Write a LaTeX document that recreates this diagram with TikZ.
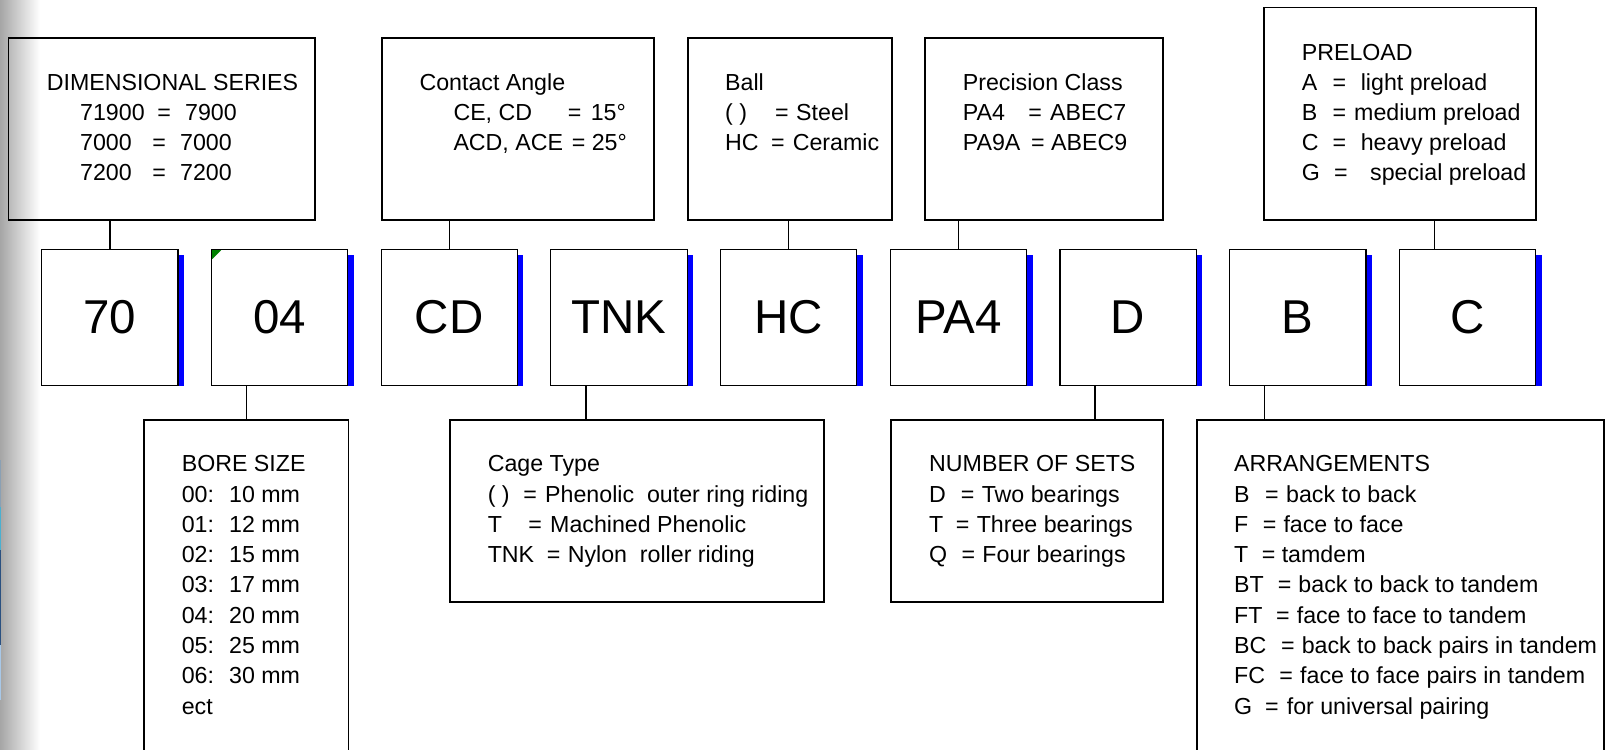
\documentclass[tikz,border=0pt]{standalone}
\usepackage{fontspec}
\setmainfont{Liberation Sans}
\newlength\pxunit \setlength\pxunit{0.5pt}
\newcommand\kvline[4]{\makebox[0pt][l]{#1}\hspace*{#2\pxunit}\makebox[0pt][l]{=}\hspace*{\dimexpr #3\pxunit-#2\pxunit\relax}#4}
\newcommand\kcol[3]{\makebox[0pt][l]{#1}\hspace*{#2\pxunit}#3}
\begin{document}
\begin{tikzpicture}[x=0.5pt,y=-0.5pt,
  info/.style={draw=black, line width=0.8pt, inner sep=0pt, outer sep=0pt, anchor=north west},
  codebox/.style={draw=black, line width=0.6pt, fill=white, inner sep=0pt, outer sep=0pt,
    minimum width=68.15pt, minimum height=68.2pt, anchor=north west,
    font=\fontsize{23.75}{28}\selectfont},
  conn/.style={draw=black, line width=0.75pt},
  txt/.style={anchor=base west, inner sep=0pt, outer sep=0pt, font=\fontsize{11.6}{14}\selectfont}]

\useasboundingbox (0,0) rectangle (1614,750);
\clip (0,0) rectangle (1614,750);
\fill[white] (0,0) rectangle (1614,750);
\shade[left color=black!35, right color=white] (0,0) rectangle (40,750);
\fill[color={rgb,255:red,138;green,160;blue,180}] (0,460) rectangle (1.2,507);
\fill[color={rgb,255:red,74;green,176;blue,208}] (0,507) rectangle (1.2,550);
\fill[color={rgb,255:red,42;green,80;blue,128}] (0,550) rectangle (1.2,645);
\fill[color={rgb,255:red,168;green,200;blue,232}] (0,645) rectangle (1.2,700);

% info boxes (top)
\node[info, minimum width=153.35pt, minimum height=91.15pt] (dim) at (8.3,37.7) {};
\node[info, minimum width=136.15pt, minimum height=91.15pt] (contact) at (381.7,37.7) {};
\node[info, minimum width=102pt, minimum height=91.15pt] (ball) at (687.7,37.7) {};
\node[info, minimum width=119pt, minimum height=91.15pt] (prec) at (924.7,37.7) {};
\node[info, minimum width=136pt, minimum height=106.35pt] (preload) at (1264,7.3) {};
% info boxes (bottom)
\node[info, minimum width=102.15pt, minimum height=170pt] (bore) at (144,420) {};
\node[info, minimum width=187.15pt, minimum height=90.85pt] (cage) at (449.7,420) {};
\node[info, minimum width=135.85pt, minimum height=90.85pt] (sets) at (891,420) {};
\node[info, minimum width=203.5pt, minimum height=170pt] (arr) at (1197,420) {};

% code boxes
\foreach \lab [count=\i from 0] in {70,04,CD,TNK,HC,PA4,D,B,C} {
  \node[codebox] (c\i) at (41.7+169.7*\i, 249.3) {\lab};
  \fill[blue] ([shift={(0.3pt,-2.9pt)}]c\i.north east) rectangle ([xshift=3pt]c\i.south east);
}
\fill[green!50!black] ([shift={(0.4pt,-0.4pt)}]c1.north west) -- ++(9,0) -- ++(-9,9) -- cycle;

% connectors
\draw[conn] (dim.south -| c0.north) -- (c0.north);
\draw[conn] (contact.south -| c2.north) -- (c2.north);
\draw[conn] (ball.south -| c4.north) -- (c4.north);
\draw[conn] (prec.south -| c5.north) -- (c5.north);
\coordinate (p8) at ([xshift=17.5pt]c8.north west);
\draw[conn] (p8 |- preload.south) -- (p8);
\coordinate (p1) at ([xshift=17.5pt]c1.south west);
\draw[conn] (p1) -- (p1 |- bore.north);
\coordinate (p3) at ([xshift=17.5pt]c3.south west);
\draw[conn] (p3) -- (p3 |- cage.north);
\coordinate (p6) at ([xshift=17.5pt]c6.south west);
\draw[conn] (p6) -- (p6 |- sets.north);
\coordinate (p7) at ([xshift=17.5pt]c7.south west);
\draw[conn] (p7) -- (p7 |- arr.north);

% texts top
\node[txt] (dimH) at (46.8,90.7) {DIMENSIONAL SERIES};
\foreach \t [count=\k from 0] in {{\kvline{71900}{77.3}{105}{7900}},{\kvline{7000}{72.3}{100}{7000}},{\kvline{7200}{72.3}{100}{7200}}}
  \node[txt] (dimT\k) at (80.2,120.7+30*\k) {\t};

\node[txt] (conH) at (419.5,90.7) {Contact Angle};
\foreach \t [count=\k from 0] in {{\kvline{CE, CD}{114.3}{137.3}{15°}},{\kvline{ACD, ACE}{118.3}{138.3}{25°}}}
  \node[txt] (conT\k) at (453.5,120.7+30*\k) {\t};

\foreach \t [count=\k from 0] in {{Ball},{\kvline{( )}{50}{71}{Steel}},{\kvline{HC}{46}{67.6}{Ceramic}}}
  \node[txt] (ballT\k) at (725.2,90.7+30*\k) {\t};

\foreach \t [count=\k from 0] in {{Precision Class},{\kvline{PA4}{65.7}{87.4}{ABEC7}},{\kvline{PA9A}{68.4}{88.4}{ABEC9}}}
  \node[txt] (precT\k) at (962.8,90.7+30*\k) {\t};

\foreach \t [count=\k from 0] in {{PRELOAD},{\kvline{A}{30.7}{59}{light preload}},{\kvline{B}{30.7}{52.4}{medium preload}},{\kvline{C}{30.7}{59}{heavy preload}},{\kvline{G}{32.4}{68.4}{special preload}}}
  \node[txt] (preT\k) at (1301.8,60.7+30*\k) {\t};

% texts bottom
\foreach \t [count=\k from 0] in {{BORE SIZE},{\kcol{00:}{47.4}{10 mm}},{\kcol{01:}{47.4}{12 mm}},{\kcol{02:}{47.4}{15 mm}},{\kcol{03:}{47.4}{17 mm}},{\kcol{04:}{47.4}{20 mm}},{\kcol{05:}{47.4}{25 mm}},{\kcol{06:}{47.4}{30 mm}},{ect}}
  \node[txt] (boreT\k) at (181.8,471.7+30.3*\k) {\t};

\foreach \t [count=\k from 0] in {{Cage Type},{\kvline{( )}{35.7}{57.4}{Phenolic~ outer ring riding}},{\kvline{T}{40.7}{62.4}{Machined Phenolic}},{\kvline{TNK}{59}{80}{Nylon~ roller riding}}}
  \node[txt] (cageT\k) at (487.8,471.7+30.3*\k) {\t};

\foreach \t [count=\k from 0] in {{NUMBER OF SETS},{\kvline{D}{31.6}{52.6}{Two bearings}},{\kvline{T}{26.6}{47.6}{Three bearings}},{\kvline{Q}{32.3}{53.3}{Four bearings}}}
  \node[txt] (setsT\k) at (929.2,471.7+30.3*\k) {\t};

\foreach \t [count=\k from 0] in {{ARRANGEMENTS},{\kvline{B}{31}{52}{back to back}},{\kvline{F}{28.6}{49.3}{face to face}},{\kvline{T}{27.6}{47.6}{tamdem}},{\kvline{BT}{43.6}{64.3}{back to back to tandem}},{\kvline{FT}{42}{62.6}{face to face to tandem}},{\kvline{BC}{47}{67.6}{back to back pairs in tandem}},{\kvline{FC}{45.3}{66}{face to face pairs in tandem}},{\kvline{G}{31}{52.6}{for universal pairing}}}
  \node[txt] (arrT\k) at (1234.2,471.7+30.3*\k) {\t};

\end{tikzpicture}
\end{document}
